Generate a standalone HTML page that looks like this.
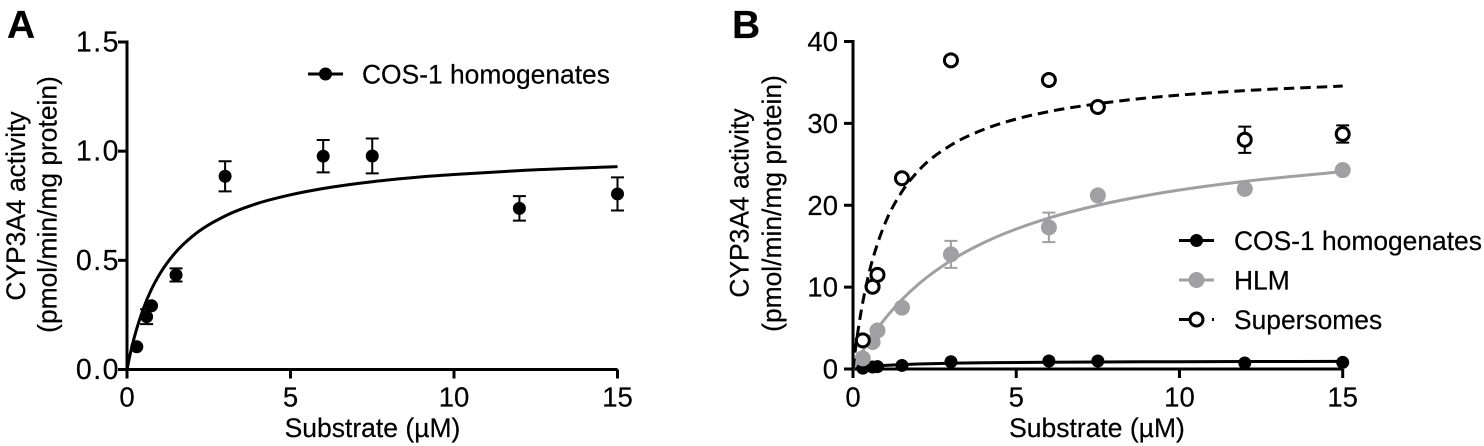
<!DOCTYPE html>
<html lang="en">
<head>
<meta charset="utf-8">
<title>CYP3A4 activity charts</title>
<style>
  html, body { margin: 0; padding: 0; background: #fff; }
  svg { display: block; }
  text { font-family: "Liberation Sans", Arial, sans-serif; fill: #000; stroke: #000; stroke-width: 0.2px; }
</style>
</head>
<body>
<svg id="chart" xmlns="http://www.w3.org/2000/svg" width="1484" height="446" viewBox="0 0 1484 446">
  <rect x="0" y="0" width="1484" height="446" fill="#fff"/>
  <text x="7" y="38" font-size="39" font-weight="700">A</text>
  <text x="732" y="38" font-size="39" font-weight="700">B</text>

  <text transform="translate(25,206) rotate(-90)" text-anchor="middle" font-size="26.4">CYP3A4 activity</text>
  <text transform="translate(56.5,204.5) rotate(-90)" text-anchor="middle" font-size="26.4">(pmol/min/mg protein)</text>
  <text x="372.5" y="437" text-anchor="middle" font-size="26.5">Substrate (µM)</text>

  <text transform="translate(748.5,203) rotate(-90)" text-anchor="middle" font-size="26.4">CYP3A4 activity</text>
  <text transform="translate(781,203.5) rotate(-90)" text-anchor="middle" font-size="26.4">(pmol/min/mg protein)</text>
  <text x="1097" y="437" text-anchor="middle" font-size="26.5">Substrate (µM)</text>

  <g id="panel-a"></g>
  <g id="panel-b"></g>

  <g>
    <g>
      <line x1="308" y1="74" x2="343" y2="74" stroke="#000" stroke-width="3"/>
      <circle cx="325.5" cy="74" r="6.5" fill="#000"/>
      <text x="362" y="83.5" font-size="26.4">COS-1 homogenates</text>
    </g>
  </g>
  <g>
    <g>
      <line x1="1179" y1="240.5" x2="1214" y2="240.5" stroke="#000" stroke-width="3"/>
      <circle cx="1196.5" cy="240.5" r="6.5" fill="#000"/>
      <text x="1234" y="250" font-size="26.4">COS-1 homogenates</text>
    </g>
    <g>
      <line x1="1179" y1="280" x2="1214" y2="280" stroke="#a0a0a2" stroke-width="3"/>
      <circle cx="1196.5" cy="280" r="8" fill="#a0a0a2"/>
      <text x="1234" y="289.5" font-size="26.4">HLM</text>
    </g>
    <g>
      <line x1="1179" y1="319.5" x2="1190" y2="319.5" stroke="#000" stroke-width="3"/>
      <line x1="1212" y1="319.5" x2="1214" y2="319.5" stroke="#000" stroke-width="3"/>
      <circle cx="1196.5" cy="319.5" r="6.5" fill="#fff" stroke="#000" stroke-width="3"/>
      <text x="1234" y="329" font-size="26.4">Supersomes</text>
    </g>
  </g>
</svg>

<script>
// Shared tick labels and concentrations
const xTicks = [0, 5, 10, 15];
const yTicksA = ['0.0', '0.5', '1.0', '1.5'];
const yTicksB = ['0', '10', '20', '30', '40'];
const substrate = [0.3, 0.6, 0.75, 1.5, 3, 6, 7.5, 12, 15];

// Panel A: COS-1 homogenates
const cosValues = [0.104, 0.242, 0.292, 0.433, 0.885, 0.977, 0.978, 0.738, 0.804];
const cosErrors = [0, 0.034, 0, 0.03, 0.069, 0.074, 0.08, 0.056, 0.076];

// Panel B: HLM and Supersomes
const hlmValues = [1.3, 3.3, 4.7, 7.5, 14, 17.3, 21.2, 22, 24.3];
const hlmErrors = [0, 0, 0, 0, 1.65, 1.8, 0, 0, 0];
const superValues = [3.5, 10.05, 11.5, 23.3, 37.7, 35.3, 32, 28, 28.7];
const superErrors = [0, 0, 0, 0, 0, 0, 0, 1.6, 1.05];

// Fit curves
const curveX = [0, 0.1, 0.2, 0.3, 0.5, 0.75, 1, 1.5, 2, 3, 4, 5, 6, 7.5, 9, 10, 12, 15];
const cosCurve = [0, 0.072, 0.134, 0.188, 0.279, 0.368, 0.437, 0.539, 0.61, 0.703, 0.761, 0.8, 0.829, 0.86, 0.882, 0.893, 0.911, 0.929];
const hlmCurve = [0, 0.76, 1.49, 2.19, 3.47, 4.93, 6.23, 8.48, 10.34, 13.25, 15.42, 17.1, 18.44, 20.0, 21.2, 21.86, 22.92, 24.1];
const superCurve = [0, 3.19, 5.87, 8.16, 11.86, 15.3, 17.96, 21.67, 24.2, 27.34, 29.25, 30.53, 31.44, 32.4, 33.1, 33.45, 34.0, 34.56];
const cosCurveB = [0, 0.072, 0.134, 0.188, 0.279, 0.368, 0.437, 0.539, 0.61, 0.703, 0.761, 0.8, 0.829, 0.86, 0.882, 0.893, 0.911, 0.929];

const SVG_NS = 'http://www.w3.org/2000/svg';
function make(parent, tag, attrs) {
  const el = document.createElementNS(SVG_NS, tag);
  for (const k in attrs) el.setAttribute(k, attrs[k]);
  parent.appendChild(el);
  return el;
}
function scale(d0, d1, r0, r1) {
  return v => r0 + (v - d0) / (d1 - d0) * (r1 - r0);
}
// Cubic Hermite path with non-uniform three-point slopes, so uneven sample spacing leaves no kinks
function smoothPath(xs, ys, sx, sy) {
  const n = xs.length;
  const px = xs.map(sx), py = ys.map(sy);
  const slope = [];
  for (let i = 0; i < n; i++) {
    if (i === 0) slope.push((py[1] - py[0]) / (px[1] - px[0]));
    else if (i === n - 1) slope.push((py[n - 1] - py[n - 2]) / (px[n - 1] - px[n - 2]));
    else {
      const h0 = px[i] - px[i - 1], h1 = px[i + 1] - px[i];
      const d0 = (py[i] - py[i - 1]) / h0, d1 = (py[i + 1] - py[i]) / h1;
      slope.push((h1 * d0 + h0 * d1) / (h0 + h1));
    }
  }
  let d = 'M' + px[0].toFixed(2) + ' ' + py[0].toFixed(2);
  for (let i = 0; i < n - 1; i++) {
    const h = px[i + 1] - px[i];
    d += 'C' + [px[i] + h / 3, py[i] + slope[i] * h / 3, px[i + 1] - h / 3, py[i + 1] - slope[i + 1] * h / 3, px[i + 1], py[i + 1]].map(v => v.toFixed(2)).join(' ');
  }
  return d;
}
function drawAxes(g, sx, sy, yLabels, yMax, labelRight, labelSize, labelSpacing) {
  const x0 = sx(0), x1 = sx(15), y0 = sy(0), y1 = sy(yMax);
  const xAxis = make(g, 'path', { d: 'M' + (x0 - 9) + ' ' + y0 + 'H' + x1, stroke: '#000', 'stroke-width': 3, fill: 'none' });
  
  
  const yAxis = make(g, 'path', { d: 'M' + x0 + ' ' + (y0 + 9) + 'V' + y1 + 'H' + (x0 - 9), stroke: '#000', 'stroke-width': 3, fill: 'none' });
  
  
  xTicks.forEach(t => {
    if (t !== 0) {
      const tick = make(g, 'line', { x1: sx(t), x2: sx(t), y1: y0, y2: y0 + 9, stroke: '#000', 'stroke-width': 3 });
      
      
    }
    const lab = make(g, 'text', { x: sx(t), y: 406.5, 'text-anchor': 'middle', 'font-size': 27.5 });
    lab.textContent = String(t);
    
    
  });
  yLabels.forEach(t => {
    const v = parseFloat(t);
    const tick = make(g, 'line', { x1: x0 - 9, x2: x0, y1: sy(v), y2: sy(v), stroke: '#000', 'stroke-width': 3 });
    
    
    const lab = make(g, 'text', { x: labelRight, y: sy(v) + 9.5, 'text-anchor': 'end', 'font-size': labelSize, 'letter-spacing': labelSpacing });
    lab.textContent = t;
    
    
  });
}
function drawErrors(g, values, errors, sx, sy, color) {
  substrate.forEach((x, i) => {
    if (!errors[i]) return;
    const hi = sy(values[i] + errors[i]), lo = sy(values[i] - errors[i]), cx = sx(x);
    const bar = make(g, 'path', {
      d: 'M' + (cx - 6.5) + ' ' + hi + 'H' + (cx + 6.5) + 'M' + cx + ' ' + hi + 'V' + lo + 'M' + (cx - 6.5) + ' ' + lo + 'H' + (cx + 6.5),
      stroke: color, 'stroke-width': 2, fill: 'none'
    });
    
    
  });
}
function drawPoints(g, values, sx, sy, attrs) {
  substrate.forEach((x, i) => {
    const pt = make(g, 'circle', Object.assign({ cx: sx(x), cy: sy(values[i]) }, attrs));
    
    
  });
}

// Panel A
(function () {
  const g = document.getElementById('panel-a');
  const sx = scale(0, 15, 127, 617.5);
  const sy = scale(0, 1.5, 369.5, 42);
  drawAxes(g, sx, sy, yTicksA, 1.5, 120, 28.5, 1.5);
  const curve = make(g, 'path', { d: smoothPath(curveX, cosCurve, sx, sy), fill: 'none', stroke: '#000', 'stroke-width': 3 });
  
  
  drawErrors(g, cosValues, cosErrors, sx, sy, '#000');
  drawPoints(g, cosValues, sx, sy, { r: 6.5, fill: '#000' });
})();

// Panel B
(function () {
  const g = document.getElementById('panel-b');
  const sx = scale(0, 15, 853, 1342.7);
  const sy = scale(0, 40, 369, 41.5);
  drawAxes(g, sx, sy, yTicksB, 40, 838, 27.5, 0);

  const c1 = make(g, 'path', { d: smoothPath(curveX, cosCurveB, sx, sy), fill: 'none', stroke: '#000', 'stroke-width': 3 });
  
  
  drawPoints(g, cosValues, sx, sy, { r: 6.5, fill: '#000' });

  const c2 = make(g, 'path', { d: smoothPath(curveX, hlmCurve, sx, sy), fill: 'none', stroke: '#a0a0a2', 'stroke-width': 3 });
  
  
  drawErrors(g, hlmValues, hlmErrors, sx, sy, '#a0a0a2');
  drawPoints(g, hlmValues, sx, sy, { r: 8, fill: '#a0a0a2' });

  const c3 = make(g, 'path', { d: smoothPath(curveX, superCurve, sx, sy), fill: 'none', stroke: '#000', 'stroke-width': 3, 'stroke-dasharray': '10.5 6' });
  
  
  drawErrors(g, superValues, superErrors, sx, sy, '#000');
  drawPoints(g, superValues, sx, sy, { r: 6.5, fill: '#fff', stroke: '#000', 'stroke-width': 3 });
})();
</script>
</body>
</html>
